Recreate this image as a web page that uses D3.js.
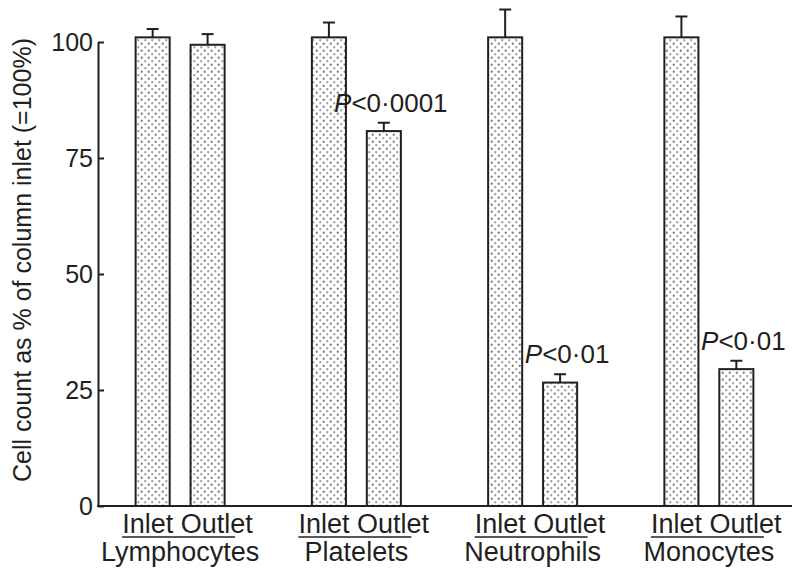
<!DOCTYPE html>
<html>
<head>
<meta charset="utf-8">
<script src="https://cdn.jsdelivr.net/npm/d3@7"></script>
<style>
  body { margin: 0; background: #fff; }
  svg { display: block; font-family: "Liberation Sans", Arial, sans-serif; }
</style>
</head>
<body>
<svg id="chart" width="792" height="570"></svg>
<script>
// data
const groups = ["Lymphocytes", "Platelets", "Neutrophils", "Monocytes"];
const sites = ["Inlet", "Outlet"];
const inletMean = [101, 101, 101, 101];
const inletErr = [1.8, 3.2, 6, 4.5];
const outletMean = [99.4, 80.8, 26.6, 29.5];
const outletErr = [2.3, 1.8, 1.8, 1.8];
const pLabels = ["", "P<0·0001", "P<0·01", "P<0·01"];
const yTicks = [0, 25, 50, 75, 100];

const width = 792;
const height = 570;
const ink = "#231f20";

const svg = d3.select("#chart");

const bars = [];
groups.forEach((g, i) => {
  bars.push({ group: g, site: "Inlet", value: inletMean[i], err: inletErr[i] });
  bars.push({ group: g, site: "Outlet", value: outletMean[i], err: outletErr[i], p: pLabels[i] });
});

const x = d3.scaleBand().domain(groups).range([92, 797]).paddingInner(0);
const xInner = d3.scaleBand().domain(sites).range([0, 89]).paddingInner(0.38);
const y = d3.scaleLinear().domain([0, 100]).range([506, 42]);

const groupMid = g => x(g) + x.bandwidth() / 2;
const barX = d => groupMid(d.group) - 44.5 + xInner(d.site);
const barMid = d => barX(d) + xInner.bandwidth() / 2;

// stipple fill
const defs = svg.append("defs");
const pat = defs.append("pattern")
  .attr("id", "dots")
  .attr("patternUnits", "userSpaceOnUse")
  .attr("width", 7)
  .attr("height", 7);
pat.append("rect").attr("width", 7).attr("height", 7).attr("fill", "#fff");
pat.append("circle").attr("cx", 1.75).attr("cy", 1.75).attr("r", 1.15).attr("fill", "#808080");
pat.append("circle").attr("cx", 5.25).attr("cy", 5.25).attr("r", 1.15).attr("fill", "#a0a0a0");

// error bars
const eb = svg.append("g").attr("stroke", ink).attr("stroke-width", 2);
eb.selectAll(".stem")
  .data(bars)
  .enter()
  .append("line")
  .attr("x1", barMid)
  .attr("x2", barMid)
  .attr("y1", d => y(d.value))
  .attr("y2", d => y(d.value + d.err));
eb.selectAll(".cap")
  .data(bars)
  .enter()
  .append("line")
  .attr("x1", d => barMid(d) - 6)
  .attr("x2", d => barMid(d) + 6)
  .attr("y1", d => y(d.value + d.err))
  .attr("y2", d => y(d.value + d.err));

// bars
svg.selectAll(".bar")
  .data(bars)
  .enter()
  .append("rect")
  .attr("class", "bar")
  .attr("x", d => barX(d))
  .attr("y", d => y(d.value))
  .attr("width", xInner.bandwidth())
  .attr("height", d => y(0) - y(d.value))
  .attr("fill", "url(#dots)")
  .attr("stroke", ink)
  .attr("stroke-width", 2);

// y axis, ticks pointing inward
const yAxis = d3.axisLeft(y)
  .tickValues(yTicks)
  .tickSize(-6)
  .tickSizeOuter(0)
  .tickPadding(5);
const gy = svg.append("g")
  .attr("transform", "translate(98,0)")
  .call(yAxis);
gy.select(".domain").attr("stroke", ink).attr("stroke-width", 2);
gy.selectAll(".tick line").attr("stroke", ink).attr("stroke-width", 2);
gy.selectAll(".tick text")
  .attr("font-size", 25)
  .attr("fill", ink)
  .attr("font-family", "Liberation Sans, Arial, sans-serif");

// baseline
svg.append("line")
  .attr("x1", 97).attr("x2", width)
  .attr("y1", y(0)).attr("y2", y(0))
  .attr("stroke", ink).attr("stroke-width", 2);

// y title
svg.append("text")
  .attr("transform", "translate(31,260) rotate(-90)")
  .attr("text-anchor", "middle")
  .attr("font-size", 25)
  .attr("fill", ink)
  .text("Cell count as % of column inlet (=100%)");

// x labels
const xl = svg.append("g").selectAll("g")
  .data(groups)
  .enter()
  .append("g")
  .attr("transform", d => `translate(${groupMid(d)},0)`);
xl.append("text")
  .attr("x", -58)
  .attr("y", 533)
  .attr("font-size", 27)
  .attr("fill", ink)
  .text("Inlet Outlet");
xl.append("line")
  .attr("x1", -58).attr("x2", 55)
  .attr("y1", 537).attr("y2", 537)
  .attr("stroke", ink).attr("stroke-width", 1.5);
xl.append("text")
  .attr("x", 0)
  .attr("y", 561)
  .attr("text-anchor", "middle")
  .attr("font-size", 27)
  .attr("fill", ink)
  .text(d => d);

// significance labels
const pl = svg.selectAll(".p")
  .data(bars.filter(d => d.p))
  .enter()
  .append("text")
  .attr("class", "p")
  .attr("x", d => barMid(d) + 7)
  .attr("y", d => y(d.value + d.err) - 11)
  .attr("text-anchor", "middle")
  .attr("font-size", 26)
  .attr("fill", ink);
pl.append("tspan").attr("font-style", "italic").text("P");
pl.append("tspan").text(d => d.p.slice(1));
</script>
</body>
</html>
